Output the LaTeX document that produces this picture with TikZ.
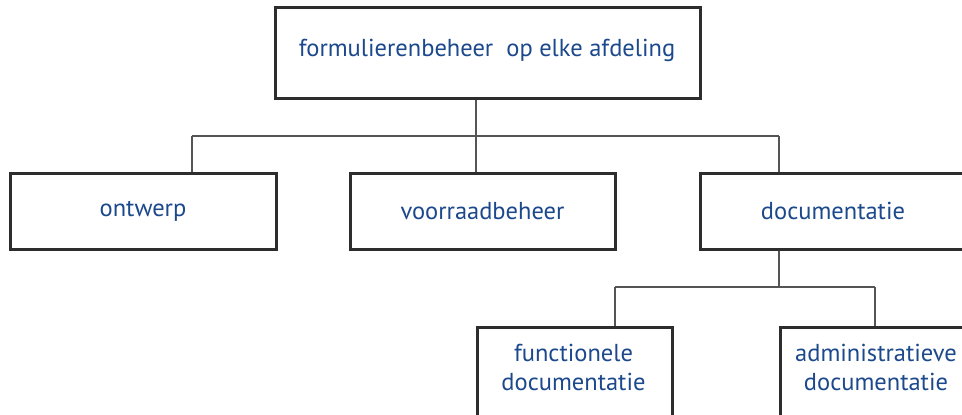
\documentclass[tikz,border=0pt]{standalone}
\usepackage{fontspec}
\setmainfont{PT Sans}
\definecolor{txtblue}{RGB}{28,72,140}
\definecolor{boxgray}{RGB}{45,45,45}
\definecolor{linegray}{RGB}{85,85,85}
\tikzset{
  box/.style={draw=boxgray, line width=3pt, fill=white, rectangle, inner sep=0pt},
  txt/.style={text=txtblue, font=\fontsize{24.5}{29}\selectfont, align=center, inner sep=0pt},
  conn/.style={draw=linegray, line width=1.5pt}
}
\begin{document}
\begin{tikzpicture}[x=1pt,y=-1pt]
\clip (0,0) rectangle (962,415);
\fill[white] (0,0) rectangle (962,415);
% bus coordinates
\coordinate (t1) at (476,136);
\coordinate (b1) at (192,136);
\coordinate (b3) at (779,136);
\coordinate (d1) at (779,287);
\coordinate (c1) at (615,287);
\coordinate (c2) at (875,287);
% connectors (drawn first, boxes cover their ends)
\draw[conn] (b1) -- (b3);
\draw[conn] (c1) -- (c2);
% boxes
\node[box, minimum width=425, minimum height=91] (top) at (487.5,52.5) {};
\node[txt] (toptxt) at (487,50) {formulierenbeheer\ \ op elke afdeling};
\node[box, minimum width=266, minimum height=76] (ontw) at (143,211) {};
\node[txt] at (ontw) {ontwerp};
\node[box, minimum width=265, minimum height=76] (voor) at (482.5,211) {};
\node[txt] at (voor) {voorraadbeheer};
\node[box, minimum width=266, minimum height=76] (doc) at (833,211) {};
\node[txt] at (doc) {documentatie};
\node[box, minimum width=195, minimum height=130, anchor=north west] (func) at (476,326) {};
\node[txt] (functxt) at (573.5,367) {functionele\\documentatie};
\node[box, minimum width=195, minimum height=130, anchor=north west] (adm) at (779,326) {};
\node[txt] (admtxt) at (876,367) {administratieve\\documentatie};
% vertical connectors
\draw[conn] (top.south -| t1) -- (t1);
\draw[conn] (b1) -- (b1 |- ontw.north);
\draw[conn] (t1) -- (t1 |- voor.north);
\draw[conn] (b3) -- (b3 |- doc.north);
\draw[conn] (doc.south -| d1) -- (d1);
\draw[conn] (c1) -- (c1 |- func.north);
\draw[conn] (c2) -- (c2 |- adm.north);
\end{tikzpicture}
\end{document}
